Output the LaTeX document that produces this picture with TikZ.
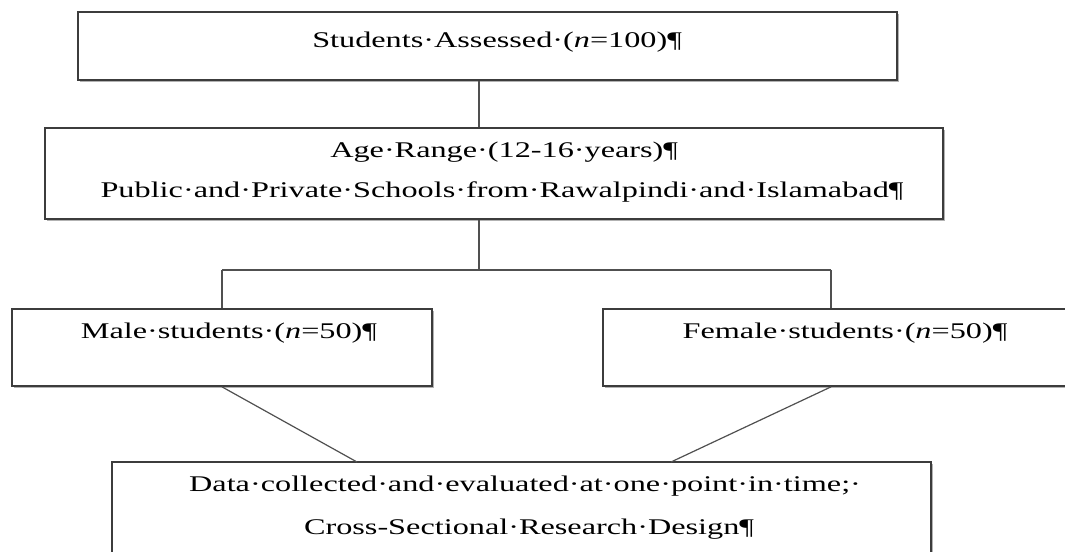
\documentclass[tikz,border=0pt]{standalone}
\usepackage{fontspec}
\setmainfont{Liberation Serif}[FakeStretch=1.44]
\usetikzlibrary{shadows}
\definecolor{boxline}{HTML}{3C3C3C}
\definecolor{conline}{HTML}{505050}
\begin{document}
\begin{tikzpicture}[x=0.75pt,y=-0.75pt,
  box/.style={draw=boxline, line width=1.3pt, fill=white, rectangle, inner sep=0pt,
    drop shadow={shadow xshift=1.3pt, shadow yshift=-1.3pt, opacity=0.3, fill=black}},
  txt/.style={anchor=base west, inner sep=0pt, font=\fontsize{16.8pt}{20pt}\selectfont},
  ctxt/.style={txt, anchor=base},
  con/.style={draw=conline, line width=0.9pt}]
\useasboundingbox (0,0) rectangle (1065,552);
\fill[white] (0,0) rectangle (1065,552);
% junction points
\coordinate (j) at (479,270);
\coordinate (jl) at (222,270);
\coordinate (jr) at (831,270);
\coordinate (bl) at (357,462);
\coordinate (br) at (671,462);
% boxes
\node[box, minimum width=614.25pt, minimum height=51pt] (b1) at (487.5,46) {};
\node[box, minimum width=673.5pt, minimum height=68.25pt] (b2) at (494,173.5) {};
\node[box, minimum width=315pt, minimum height=57.75pt] (male) at (222,347.5) {};
\node[box, minimum width=350.25pt, minimum height=57.75pt] (female) at (836.5,347.5) {};
\node[box, minimum width=614.25pt, minimum height=81pt] (bot) at (521.5,516) {};
% lines
\draw[con] (b1.south -| j) -- (b2.north -| j);
\draw[con] (b2.south -| j) -- (j);
\draw[con] (jl) -- (jr);
\draw[con] (jl) -- (male.north -| jl);
\draw[con] (jr) -- (female.north -| jr);
\draw[con] (male.south) -- (bl);
\draw[con] (female.south -| jr) -- (br);
% texts
\node[txt] (t1) at (312,48) {Students·Assessed·(\textit{n}=100)¶};
\node[txt] (t2) at (330,158) {Age·Range·(12-16·years)¶};
\node[ctxt] (t3) at (502,198) {Public·and·Private·Schools·from·Rawalpindi·and·Islamabad¶};
\node[ctxt] (t4) at (229,339) {Male·students·(\textit{n}=50)¶};
\node[ctxt] (t5) at (845,339) {Female·students·(\textit{n}=50)¶};
\node[ctxt] (t6) at (525,492) {Data·collected·and·evaluated·at·one·point·in·time;·};
\node[ctxt] (t7) at (529,534) {Cross-Sectional·Research·Design¶};
\end{tikzpicture}
\end{document}
